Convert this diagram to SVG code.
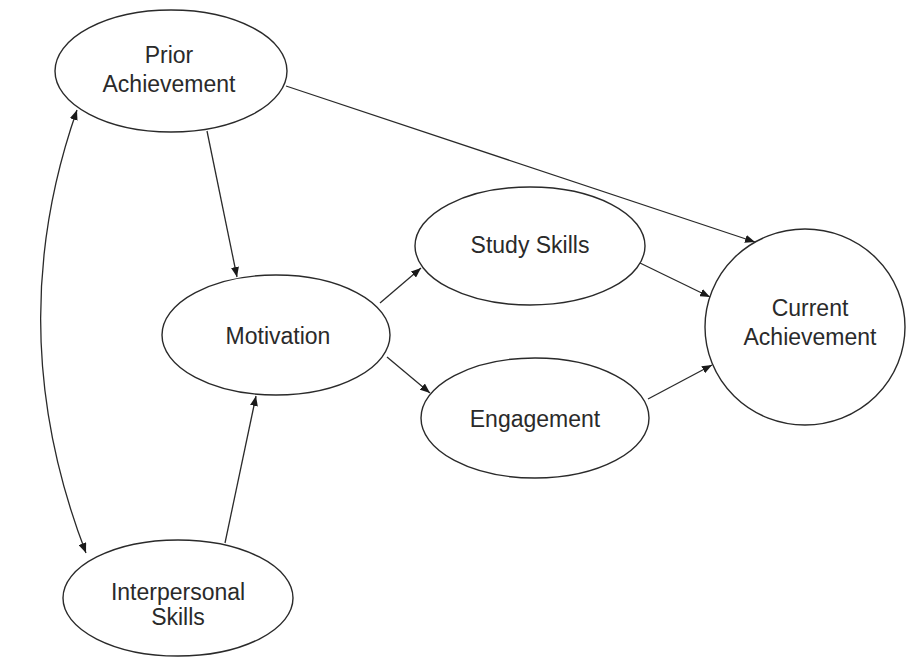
<svg xmlns="http://www.w3.org/2000/svg" width="906" height="660" viewBox="0 0 906 660">
<defs>
<marker id="ah" viewBox="0 0 10 8" refX="10" refY="4" markerWidth="10" markerHeight="8" markerUnits="userSpaceOnUse" orient="auto-start-reverse">
<path d="M0,0 L10,4 L0,8 Z" fill="#1a1a1a"/>
</marker>
<style>
.n ellipse{fill:#fff;stroke:#2a2a2a;stroke-width:1.4}
.n text{font-family:"Liberation Sans",Arial,sans-serif;font-size:23px;fill:#2a2a2a;text-anchor:middle}
.c path{fill:none;stroke:#2a2a2a;stroke-width:1.3;marker-end:url(#ah)}
</style>
</defs>
<rect width="906" height="660" fill="#fff"/>
<g class="c" id="connectors">
<path d="M286,86 L755,242"/>
<path d="M207,131 L237,277"/>
<path d="M225,543 L256,396"/>
<path d="M380,303 L421,268"/>
<path d="M387,357 L430,393"/>
<path d="M640,263 L710,297"/>
<path d="M648,399 L712,365"/>
<path d="M77,110 Q0,330 86,553" marker-start="url(#ah)"/>
</g>
<g class="n" id="prior">
<ellipse cx="171" cy="71" rx="116" ry="61"/>
<text x="169" y="63">Prior</text>
<text x="169" y="92">Achievement</text>
</g>
<g class="n" id="motivation">
<ellipse cx="276" cy="335" rx="114" ry="60"/>
<text x="278" y="344">Motivation</text>
</g>
<g class="n" id="study">
<ellipse cx="530" cy="246" rx="115" ry="59"/>
<text x="530" y="253">Study Skills</text>
</g>
<g class="n" id="engagement">
<ellipse cx="535" cy="418" rx="114" ry="60"/>
<text x="535" y="427">Engagement</text>
</g>
<g class="n" id="current">
<ellipse cx="805" cy="327" rx="100" ry="98"/>
<text x="810" y="316">Current</text>
<text x="810" y="345">Achievement</text>
</g>
<g class="n" id="interpersonal">
<ellipse cx="178" cy="598" rx="115" ry="58"/>
<text x="178" y="600">Interpersonal</text>
<text x="178" y="625">Skills</text>
</g>
</svg>
